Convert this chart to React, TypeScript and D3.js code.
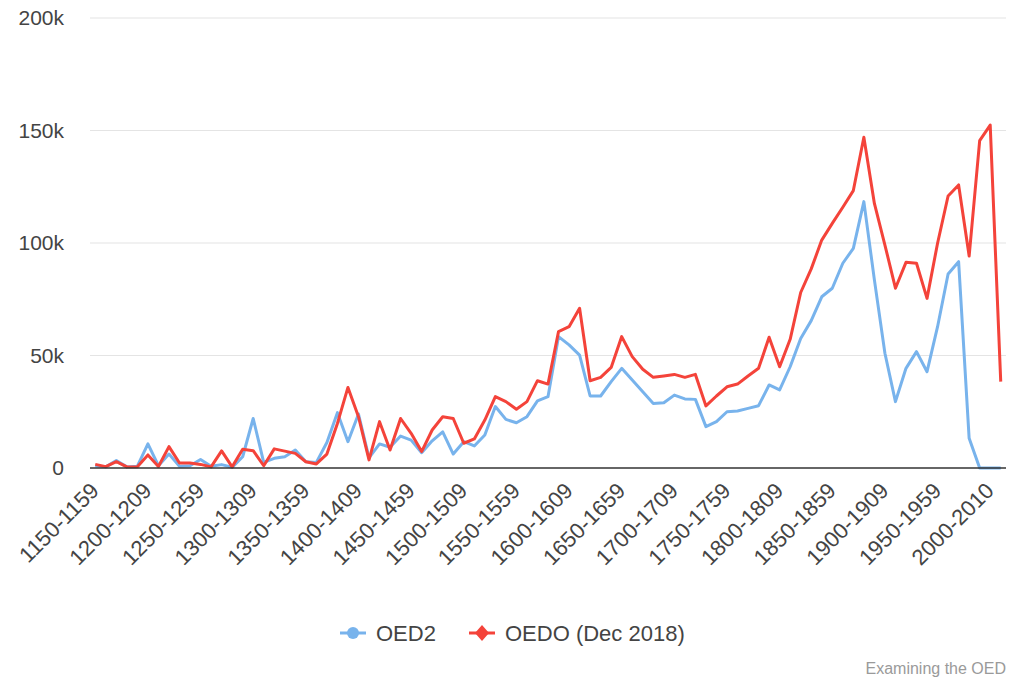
import * as d3 from "d3";

// decades on the x axis (the last two are odd-sized in the source)
const decadeStarts = d3.range(1150, 2000, 10);
const categories = [
  ...decadeStarts.map((s) => `${s}-${s + 9}`),
  "2000-2010",
  "2011-2018",
];

// every fifth category gets a label
const tickLabels = categories.filter((_, i) => i % 5 === 0);

const yTicks = [0, 50000, 100000, 150000, 200000];

// values in thousands
const oed2 = [
  1.0, 0.5, 3.3, 0.5, 0.8, 10.7, 1.0, 6.2, 0.8, 1.0,
  3.8, 0.8, 1.5, 0.3, 5.0, 22.0, 2.5, 4.3, 5.0, 8.0,
  2.8, 2.5, 11.3, 24.6, 11.7, 24.0, 4.5, 10.7, 9.2, 14.2,
  12.4, 6.8, 12.1, 16.1, 6.2, 11.7, 9.8, 14.7, 27.3, 21.6,
  20.1, 22.8, 29.8, 31.7, 58.4, 54.7, 50.2, 32.0, 32.0, 38.4,
  44.3, 39.1, 33.9, 28.7, 29.0, 32.4, 30.7, 30.5, 18.4, 20.6,
  25.0, 25.3, 26.5, 27.7, 36.9, 34.7, 45.0, 57.6, 65.5, 76.1,
  79.9, 91.0, 97.6, 118.4, 83.6, 51.0, 29.5, 44.3, 51.7, 42.8,
  62.8, 86.2, 91.7, 13.2, 0, 0, 0,
];

const oedo = [
  1.6, 0.6, 2.8, 0.5, 0.6, 5.8, 0.7, 9.5, 2.2, 2.2,
  1.6, 0.5, 7.6, 0.5, 8.3, 7.7, 1.0, 8.5, 7.5, 6.5,
  2.8, 1.8, 6.2, 19.8, 35.8, 22.8, 3.6, 20.6, 8.0, 22.0,
  15.4, 7.3, 16.9, 22.8, 22.0, 11.0, 12.9, 21.3, 31.7, 29.5,
  26.1, 29.5, 38.8, 37.3, 60.6, 62.8, 71.0, 38.8, 40.3, 44.7,
  58.4, 49.5, 43.9, 40.3, 40.9, 41.6, 40.3, 41.6, 27.6, 32.0,
  36.1, 37.3, 40.9, 44.3, 58.1, 45.0, 57.2, 78.0, 88.5, 101.3,
  108.7, 115.9, 123.3, 147.0, 117.6, 99.1, 79.9, 91.4, 91.0, 75.4,
  99.9, 120.9, 125.8, 94.2, 145.5, 152.4, 38.4,
];

const seriesNames = ["OED2", "OEDO (Dec 2018)"];
const colors = ["#78b3ec", "#f4433a"];

const W = 1024;
const H = 683;
const font = "Arial, 'Liberation Sans', sans-serif";

export default function App() {
  const x = d3.scalePoint().domain(categories).range([90, 1006]).padding(0.5);
  const y = d3.scaleLinear().domain([0, 200000]).range([468, 18]);

  const line = d3
    .line<number>()
    .x((_, i) => x(categories[i]))
    .y((v) => y(v * 1000));

  const fmt = (v: number) => (v === 0 ? "0" : `${v / 1000}k`);

  return (
    <svg
      width={W}
      height={H}
      style={{ position: "absolute", left: 0, top: 0, background: "#fff" }}
      fontFamily={font}
    >
      {/* grid */}
      {yTicks
        .filter((t) => t > 0)
        .map((t) => (
          <line key={t} x1={90} x2={1006} y1={y(t)} y2={y(t)} stroke="#e4e4e4" strokeWidth={1.2} />
        ))}
      {yTicks.map((t) => (
        <text key={t} x={64} y={y(t)} dy="0.35em" textAnchor="end" fontSize={21} fill="#444">
          {fmt(t)}
        </text>
      ))}

      {/* series */}
      {[oed2, oedo].map((vals, k) => (
        <path
          key={k}
          d={line(vals) || ""}
          fill="none"
          stroke={colors[k]}
          strokeWidth={3}
          strokeLinejoin="round"
        />
      ))}

      <line x1={90} x2={1006} y1={y(0)} y2={y(0)} stroke="#333" strokeWidth={1.5} />

      {/* x labels */}
      {tickLabels.map((c) => {
        const px = x(c) + 5;
        const py = 492;
        return (
          <text
            key={c}
            x={px}
            y={py}
            textAnchor="end"
            fontSize={22}
            fill="#444"
            transform={`rotate(-45 ${px} ${py})`}
          >
            {c}
          </text>
        );
      })}

      {/* legend */}
      <g>
        <line x1={340} x2={366} y1={633} y2={633} stroke={colors[0]} strokeWidth={3} />
        <circle cx={353} cy={633} r={6} fill={colors[0]} />
        <text x={376} y={633} dy="0.35em" fontSize={22} fill="#444">
          {seriesNames[0]}
        </text>
        <line x1={469} x2={495} y1={633} y2={633} stroke={colors[1]} strokeWidth={3} />
        <path d="M482,625 L489,633 L482,641 L475,633 Z" fill={colors[1]} />
        <text x={505} y={633} dy="0.35em" fontSize={22} fill="#444">
          {seriesNames[1]}
        </text>
      </g>

      <text x={1006} y={668} dy="0.35em" textAnchor="end" fontSize={16} fill="#9a9a9a">
        Examining the OED
      </text>
    </svg>
  );
}
